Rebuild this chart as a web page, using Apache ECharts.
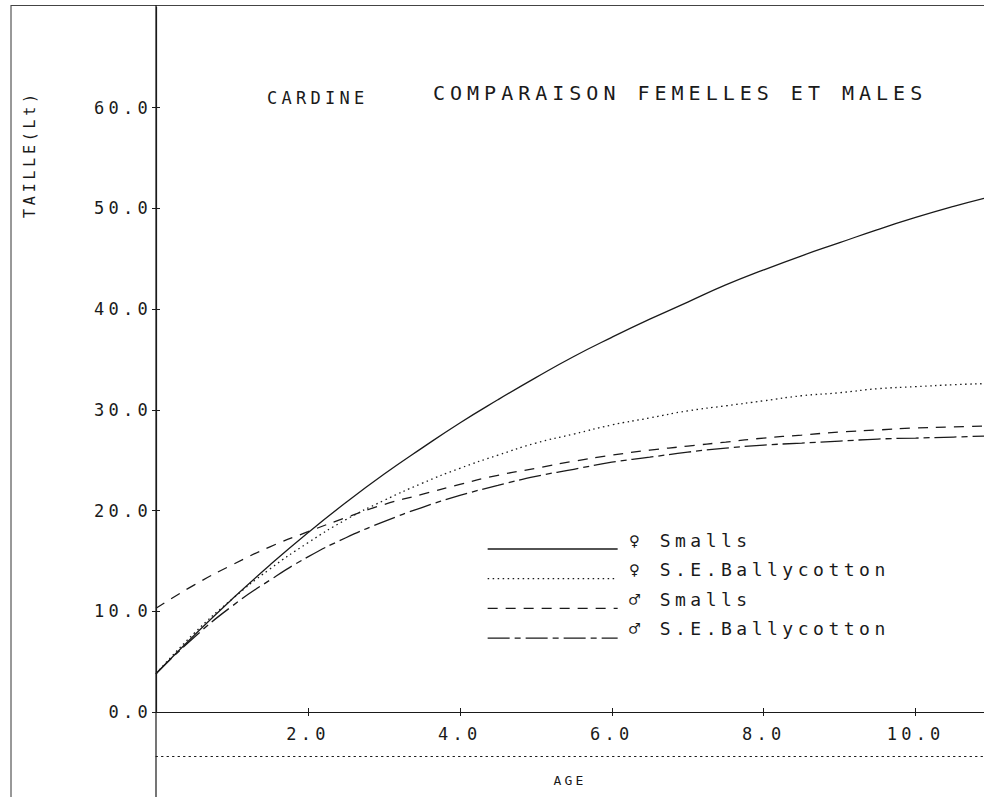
<!DOCTYPE html>
<html>
<head>
<meta charset="utf-8">
<script src="https://cdn.jsdelivr.net/npm/echarts@6/dist/echarts.min.js"></script>
<style>
  html, body { margin: 0; padding: 0; background: #fff; }
  #chart { width: 984px; height: 797px; }
  /* plotter-style wide lettering */
  #chart svg text { letter-spacing: 0.25em; }
</style>
</head>
<body>
<div id="chart"></div>
<script>
// Age (years)
const ages = [0, 0.5, 1, 1.5, 2, 2.5, 3, 3.5, 4, 4.5, 5, 5.5, 6, 6.5, 7, 7.5, 8, 8.5, 9, 9.5, 10, 10.5, 10.9];

// Length (cm) per group
const femaleSmalls = [3.8, 7.6, 11.2, 14.6, 17.8, 20.8, 23.6, 26.2, 28.7, 31.0, 33.2, 35.3, 37.2, 39.0, 40.7, 42.4, 43.9, 45.3, 46.6, 47.9, 49.1, 50.2, 51.0];
const femaleBally  = [3.8, 7.8, 11.2, 14.2, 16.8, 19.1, 21.0, 22.7, 24.2, 25.5, 26.7, 27.6, 28.5, 29.2, 29.9, 30.4, 30.9, 31.4, 31.7, 32.1, 32.3, 32.5, 32.6];
const maleSmalls   = [10.3, 12.6, 14.6, 16.4, 17.9, 19.3, 20.6, 21.6, 22.6, 23.5, 24.2, 24.9, 25.5, 26.0, 26.4, 26.8, 27.2, 27.5, 27.8, 28.0, 28.2, 28.3, 28.4];
const maleBally    = [3.8, 7.4, 10.5, 13.1, 15.4, 17.3, 18.9, 20.3, 21.5, 22.5, 23.4, 24.1, 24.8, 25.3, 25.8, 26.2, 26.5, 26.7, 26.9, 27.1, 27.2, 27.3, 27.4];

const seriesNames = ['\u2640 Smalls', '\u2640 S.E.Ballycotton', '\u2642 Smalls', '\u2642 S.E.Ballycotton'];

// Tick labels
const xTicks = [2, 4, 6, 8, 10];
const yTicks = [0, 10, 20, 30, 40, 50, 60];

const titleLeft = 'CARDINE';
const titleRight = 'COMPARAISON FEMELLES ET MALES';
const yTitle = 'TAILLE(Lt)';
const xTitle = 'AGE';

const FONT = '"DejaVu Sans Mono", monospace';
const INK = '#1a1a1a';

const pairs = vals => ages.map((a, i) => [a, vals[i]]);

const lineStyles = [
  { type: 'solid' },
  { type: [1.5, 3.5] },
  { type: [10, 8] },
  { type: [22, 5, 6, 5] }
];
const seriesValues = [femaleSmalls, femaleBally, maleSmalls, maleBally];

const chart = echarts.init(document.getElementById('chart'), null, { renderer: 'svg' });

// Key: line samples and their captions sit on two stacked legends so the
// caption rides slightly above its sample, as on the plotter sheet.
const keyCommon = {
  orient: 'vertical',
  left: 482,
  itemWidth: 130,
  itemHeight: 20,
  selectedMode: false
};

chart.setOption({
  animation: false,
  backgroundColor: '#fff',
  title: [
    { text: titleLeft, left: 262, top: 84,
      textStyle: { fontFamily: FONT, fontSize: 17, fontWeight: 'normal', color: INK } },
    { text: titleRight, left: 428, top: 78,
      textStyle: { fontFamily: FONT, fontSize: 20, fontWeight: 'normal', color: INK } }
  ],
  legend: [
    Object.assign({}, keyCommon, {
      top: 536,
      itemGap: 13.7,
      lineStyle: { width: 1.3, color: INK },
      itemStyle: { opacity: 0 },
      formatter: () => '',
      textStyle: { fontFamily: FONT, fontSize: 18, lineHeight: 20, color: INK }
    }),
    Object.assign({}, keyCommon, {
      top: 525,
      itemGap: 9.5,
      icon: 'rect',
      itemStyle: { opacity: 0 },
      textStyle: {
        fontFamily: FONT, fontSize: 18, lineHeight: 20, color: INK,
        padding: [0, 0, 0, 7]
      }
    })
  ],
  grid: { left: 156, right: 0, top: 7, bottom: 85, containLabel: false },
  xAxis: [
    {
      type: 'value', min: 0, max: 10.9, position: 'bottom',
      name: xTitle, nameLocation: 'middle', nameGap: 62,
      nameTextStyle: { fontFamily: FONT, fontSize: 13, color: INK },
      axisLine: { show: true, onZero: false, lineStyle: { color: INK, width: 1.2 } },
      axisTick: { show: true, length: 4, customValues: xTicks, lineStyle: { color: INK } },
      axisLabel: {
        customValues: xTicks, margin: 13,
        fontFamily: FONT, fontSize: 17, color: INK,
        formatter: v => v.toFixed(1)
      },
      splitLine: { show: false }
    },
    {
      type: 'value', min: 0, max: 10.9, position: 'bottom',
      axisLine: { show: false },
      axisTick: { show: true, inside: true, length: 4, customValues: xTicks, lineStyle: { color: INK } },
      axisLabel: { show: false },
      splitLine: { show: false }
    },
    {
      type: 'value', min: 0, max: 10.9, position: 'bottom', offset: 44,
      axisLine: { show: true, onZero: false, lineStyle: { color: INK, width: 1, type: [1.5, 4] } },
      axisTick: { show: false },
      axisLabel: { show: false },
      splitLine: { show: false }
    }
  ],
  yAxis: [
    {
      type: 'value', min: 0, max: 70, interval: 10,
      axisLine: { show: true, lineStyle: { color: INK, width: 1.2 } },
      axisTick: { show: true, length: 4, customValues: yTicks, lineStyle: { color: INK } },
      axisLabel: {
        customValues: yTicks, margin: 4,
        fontFamily: FONT, fontSize: 17, color: INK,
        formatter: v => v.toFixed(1)
      },
      splitLine: { show: false }
    },
    {
      type: 'value', min: 0, max: 70, interval: 10, position: 'left',
      axisLine: { show: false },
      axisTick: { show: true, inside: true, length: 4, customValues: yTicks, lineStyle: { color: INK } },
      axisLabel: { show: false },
      splitLine: { show: false }
    }
  ],
  graphic: [
    // outer frame: left edge and top edge
    { type: 'line', shape: { x1: 11, y1: 5, x2: 11, y2: 797 }, style: { stroke: '#333', lineWidth: 1 } },
    { type: 'line', shape: { x1: 11, y1: 5.5, x2: 984, y2: 5.5 }, style: { stroke: '#444', lineWidth: 1 } },
    // ordinate line carried through to the lower edge
    { type: 'line', shape: { x1: 156, y1: 5, x2: 156, y2: 797 }, style: { stroke: INK, lineWidth: 1.2 } },
    {
      type: 'text', x: 30, y: 154, rotation: Math.PI / 2,
      style: {
        text: yTitle, fill: INK, font: '15px ' + FONT,
        align: 'center', verticalAlign: 'middle'
      }
    }
  ],
  series: seriesValues.map((vals, i) => ({
    name: seriesNames[i],
    type: 'line',
    xAxisIndex: 0,
    yAxisIndex: 0,
    data: pairs(vals),
    smooth: true,
    symbol: 'none',
    itemStyle: { color: INK },
    lineStyle: Object.assign({ color: INK, width: 1.3 }, lineStyles[i])
  }))
});
</script>
</body>
</html>
